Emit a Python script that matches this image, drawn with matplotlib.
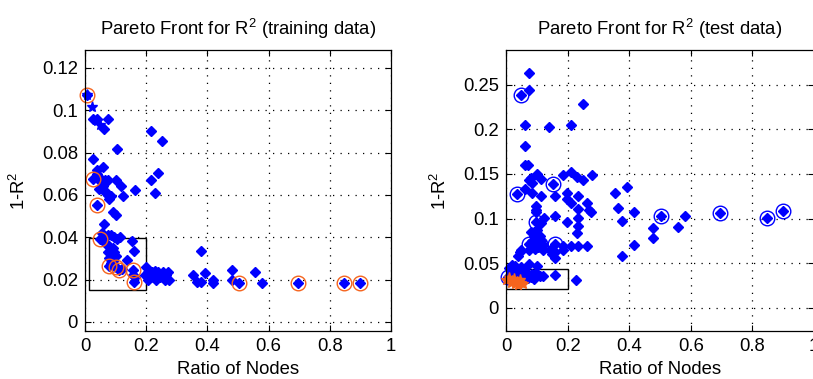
import matplotlib
matplotlib.use("Agg")
import matplotlib.pyplot as plt
from matplotlib.patches import Rectangle

plt.rcParams['font.family'] = ['Liberation Sans', 'DejaVu Sans']
plt.rcParams['mathtext.fontset'] = 'custom'
plt.rcParams['mathtext.rm'] = 'Liberation Sans'
plt.rcParams['mathtext.it'] = 'Liberation Sans'

# training data: all models
train_x = [0.025, 0.038, 0.062, 0.076, 0.1035, 0.025, 0.038, 0.040, 0.060,
           0.025, 0.045, 0.055, 0.065, 0.075, 0.1, 0.045, 0.06, 0.065, 0.07,
           0.075, 0.08, 0.085, 0.118, 0.125, 0.163, 0.038, 0.09, 0.1, 0.063,
           0.055, 0.065, 0.075, 0.085, 0.095, 0.105, 0.115, 0.049, 0.07, 0.08,
           0.09, 0.075, 0.085, 0.095, 0.08, 0.09, 0.1, 0.085, 0.152, 0.161,
           0.136, 0.08, 0.095, 0.1, 0.11, 0.12, 0.156, 0.156, 0.161, 0.165,
           0.215, 0.253, 0.215, 0.237, 0.229, 0.2, 0.207, 0.22, 0.23, 0.24,
           0.255, 0.272, 0.207, 0.215, 0.232, 0.245, 0.26, 0.275, 0.195, 0.21,
           0.265, 0.379, 0.352, 0.392, 0.365, 0.378, 0.417, 0.417, 0.479,
           0.479, 0.504, 0.556, 0.579, 0.695, 0.848, 0.899, 0.0075]
train_y = [0.0957, 0.0957, 0.091, 0.0957, 0.0815, 0.077, 0.072, 0.070, 0.0734,
           0.0674, 0.067, 0.067, 0.067, 0.067, 0.067, 0.063, 0.064, 0.062, 0.061,
           0.060, 0.058, 0.0595, 0.064, 0.0595, 0.0623, 0.0553, 0.052, 0.0505, 0.0463,
           0.042, 0.040, 0.041, 0.041, 0.040, 0.039, 0.040, 0.039, 0.037, 0.036,
           0.035, 0.033, 0.032, 0.033, 0.030, 0.029, 0.031, 0.028, 0.038, 0.0337,
           0.0293, 0.0262, 0.0262, 0.0258, 0.0245, 0.025, 0.0246, 0.022, 0.019, 0.021,
           0.0904, 0.0855, 0.067, 0.0705, 0.0608, 0.026, 0.0238, 0.0235, 0.024, 0.0235,
           0.0238, 0.0238, 0.0198, 0.021, 0.0198, 0.021, 0.0198, 0.020, 0.022, 0.022,
           0.022, 0.0337, 0.0222, 0.023, 0.019, 0.019, 0.020, 0.0185, 0.0246,
           0.0199, 0.0183, 0.0238, 0.0186, 0.0186, 0.0186, 0.0186, 0.107]

# training data: star markers near the top
train_star_x = [0.0075, 0.024, 0.04, 0.05]
train_star_y = [0.107, 0.1015, 0.095, 0.093]

# training data: pareto front
pareto_train_x = [0.0075, 0.025, 0.038, 0.049, 0.08, 0.1, 0.11, 0.156, 0.161,
                  0.504, 0.695, 0.848, 0.899]
pareto_train_y = [0.107, 0.0674, 0.0553, 0.039, 0.0262, 0.0258, 0.0245, 0.0246,
                  0.019, 0.0183, 0.0186, 0.0186, 0.0186]

# test data: all models
test_x = [0.076, 0.076, 0.062, 0.138, 0.211, 0.249, 0.062, 0.062, 0.073,
          0.08, 0.083, 0.075, 0.062, 0.083, 0.1, 0.113, 0.113, 0.159, 0.186,
          0.211, 0.23, 0.249, 0.279, 0.197, 0.197, 0.211, 0.235, 0.235, 0.262,
          0.27, 0.275, 0.235, 0.235, 0.229, 0.197, 0.159, 0.124, 0.113, 0.098,
          0.098, 0.098, 0.186, 0.211, 0.235, 0.264, 0.354, 0.365, 0.392, 0.376,
          0.414, 0.376, 0.414, 0.477, 0.477, 0.557, 0.582,
          0.04, 0.05, 0.045, 0.075, 0.08, 0.085, 0.09, 0.08, 0.09, 0.1, 0.1,
          0.105, 0.11, 0.115, 0.12, 0.12, 0.095, 0.1, 0.144, 0.15, 0.159, 0.159,
          0.186, 0.01, 0.02, 0.03, 0.04, 0.05, 0.015, 0.025, 0.035, 0.045,
          0.055, 0.06, 0.065, 0.07, 0.08, 0.09, 0.1, 0.075, 0.098, 0.11, 0.12,
          0.159, 0.228, 0.085, 0.0075, 0.037, 0.048, 0.076, 0.0976, 0.11,
          0.152, 0.159, 0.504, 0.694, 0.846, 0.899]
test_y = [0.2635, 0.2436, 0.205, 0.203, 0.205, 0.229, 0.181, 0.16, 0.16,
          0.146, 0.14, 0.143, 0.133, 0.129, 0.15, 0.144, 0.125, 0.125, 0.1486,
          0.152, 0.147, 0.143, 0.149, 0.129, 0.122, 0.117, 0.125, 0.111, 0.117,
          0.11, 0.107, 0.101, 0.0916, 0.084, 0.096, 0.103, 0.101, 0.095, 0.114,
          0.11, 0.107, 0.069, 0.069, 0.069, 0.069, 0.129, 0.112, 0.1355, 0.097,
          0.107, 0.0585, 0.07, 0.0897, 0.0785, 0.0909, 0.103,
          0.058, 0.065, 0.062, 0.065, 0.07, 0.075, 0.08, 0.085, 0.085, 0.078, 0.072,
          0.068, 0.08, 0.075, 0.07, 0.065, 0.066, 0.087, 0.065, 0.06, 0.056, 0.063,
          0.065, 0.045, 0.048, 0.047, 0.044, 0.046, 0.04, 0.038, 0.041, 0.036,
          0.038, 0.035, 0.04, 0.033, 0.035, 0.032, 0.0465, 0.049, 0.039, 0.0355, 0.0355,
          0.037, 0.031, 0.038, 0.034, 0.128, 0.239, 0.071, 0.096, 0.071,
          0.1385, 0.072, 0.103, 0.106, 0.101, 0.108]

# test data: pareto front models (circled)
pareto_test_x = [0.0075, 0.037, 0.048, 0.076, 0.0976, 0.11, 0.152, 0.159,
                 0.504, 0.694, 0.846, 0.899]
pareto_test_y = [0.034, 0.128, 0.239, 0.071, 0.096, 0.071, 0.1385, 0.072,
                 0.103, 0.106, 0.101, 0.108]

# test data: star markers inside the box
test_star_x = [0.0, 0.01, 0.015, 0.02, 0.025, 0.03, 0.035, 0.04, 0.05, 0.055, 0.045]
test_star_y = [0.031, 0.033, 0.028, 0.030, 0.032, 0.027, 0.029, 0.026, 0.028, 0.027, 0.031]

blue = '#0000ff'
orange = '#f5641e'
fs = 13.3

fig = plt.figure(figsize=(8.13, 3.79), dpi=100)
ax1 = fig.add_axes([85 / 813, 48 / 379, 306 / 813, 281 / 379])
ax2 = fig.add_axes([506 / 813, 48 / 379, 308 / 813, 281 / 379])


def style_axes(ax, yticks, ylabels, ylim):
    ax.set_xlim(0, 1)
    ax.set_ylim(*ylim)
    ax.set_xticks([0, 0.2, 0.4, 0.6, 0.8, 1])
    ax.set_xticklabels(['0', '0.2', '0.4', '0.6', '0.8', '1'])
    ax.set_yticks(yticks)
    ax.set_yticklabels(ylabels)
    ax.grid(True, color='k', linestyle=(0, (1, 5)), linewidth=0.9)
    ax.set_axisbelow(True)
    ax.tick_params(direction='in', length=4, width=0.8, top=True, right=True,
                   labelsize=fs, pad=5)
    for s in ax.spines.values():
        s.set_linewidth(0.9)
    ax.set_xlabel('Ratio of Nodes', fontsize=fs, labelpad=4)
    ax.set_ylabel(r'1-R$^{\rm 2}$', fontsize=fs, labelpad=9)


# left: training data
ax1.plot(train_x, train_y, 'D', color=blue, markersize=4.6, linestyle='none')
ax1.plot(train_star_x, train_star_y, '*', color=blue, markersize=8, linestyle='none')
ax1.plot(pareto_train_x, pareto_train_y, 'o', markerfacecolor='none',
         markeredgecolor=orange, markersize=10.5, markeredgewidth=1.0, linestyle='none')
ax1.add_patch(Rectangle((0.013, 0.0151), 0.187, 0.0246, fill=False,
                        edgecolor='k', linewidth=1.0))
style_axes(ax1, [0, 0.02, 0.04, 0.06, 0.08, 0.1, 0.12],
           ['0', '0.02', '0.04', '0.06', '0.08', '0.1', '0.12'],
           (-0.0043, 0.1285))
ax1.set_title(r'Pareto Front for R$^{\rm 2}$ (training data)', fontsize=fs, pad=11)

# right: test data
ax2.plot(test_x, test_y, 'D', color=blue, markersize=4.6, linestyle='none')
ax2.plot(pareto_test_x, pareto_test_y, 'o', markerfacecolor='none',
         markeredgecolor=blue, markersize=10.5, markeredgewidth=1.0, linestyle='none')
ax2.plot(test_star_x, test_star_y, '*', color=orange, markersize=8, linestyle='none')
ax2.add_patch(Rectangle((0.0, 0.021), 0.2, 0.023, fill=False,
                        edgecolor='k', linewidth=1.0))
style_axes(ax2, [0, 0.05, 0.1, 0.15, 0.2, 0.25],
           ['0', '0.05', '0.1', '0.15', '0.2', '0.25'],
           (-0.026, 0.289))
ax2.set_title(r'Pareto Front for R$^{\rm 2}$ (test data)', fontsize=fs, pad=11)
for a in (ax1, ax2):
    for line in a.get_lines():
        line.set_clip_on(False)

fig.savefig('out.png', dpi=100)
